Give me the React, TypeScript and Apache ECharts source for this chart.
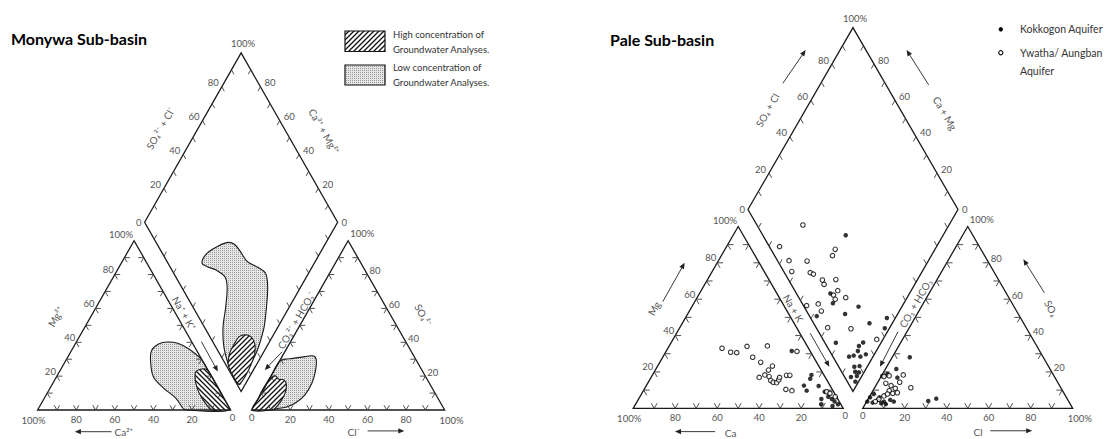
import React, { useEffect, useRef } from "react";
import * as echarts from "echarts";

type Pt = [number, number];

// ---------------- Data (Piper-plot units: triangle side = 100) ----------------
const scaleTicks = [10, 20, 30, 40, 50, 60, 70, 80, 90];
const tickLabelValues = [20, 40, 60, 80];

// Monywa Sub-basin: outlines of groundwater-analysis concentration fields
const monywaLowCentral: Pt[] = [
  [85.2, 75.0], [87.0, 79.3], [91.5, 82.7], [97.9, 85.6], [101.8, 84.9], [105.1, 81.0],
  [108.7, 75.9], [114.1, 73.0], [118.1, 69.9], [119.2, 63.1], [118.6, 52.9], [117.4, 42.6],
  [115.6, 35.8], [113.2, 29.0], [109.6, 22.2], [106.9, 17.1], [104.6, 13.0], [101.8, 17.1],
  [99.2, 22.2], [96.5, 32.4], [96.1, 42.6], [97.5, 52.9], [98.2, 63.1], [97.0, 68.2],
  [92.5, 71.6], [87.9, 73.3],
];
const monywaLowLeft: Pt[] = [
  [58.5, 25.6], [59.2, 30.7], [62.7, 33.8], [67.2, 34.8], [72.6, 34.1], [78.0, 31.5],
  [82.5, 28.1], [85.2, 25.6], [90.0, 17.3], [96.0, 6.9], [97.5, 0], [77.1, 0],
  [75.3, 0.9], [71.7, 6.0], [65.4, 11.1], [60.0, 17.0],
];
const monywaLowRight: Pt[] = [
  [121.0, 17.5], [125.2, 24.7], [128.0, 25.9], [132.2, 26.4], [138.5, 27.3], [143.0, 27.6],
  [144.4, 25.6], [143.9, 19.6], [142.1, 13.7], [138.5, 7.7], [134.0, 3.8], [129.5, 1.7],
  [125.0, 0.9], [118.0, 0], [114.5, 5.5],
];
const monywaHighCentral: Pt[] = [
  [107.5, 38.5], [110.5, 37.5], [112.5, 34.0], [112.5, 29.0], [110.5, 23.0], [107.5, 17.0],
  [104.8, 13.5], [103.5, 13.8], [101.0, 18.0], [98.8, 23.0], [99.5, 29.0], [102.0, 34.0],
  [104.5, 37.5],
];
const monywaHighLeft: Pt[] = [
  [81.6, 17.1], [82.0, 19.6], [85.2, 21.0], [88.3, 20.2], [94.0, 10.4], [98.5, 2.6],
  [99.5, 0], [90.6, 0], [87.0, 3.4], [83.8, 8.5], [82.0, 13.6],
];
const monywaHighRight: Pt[] = [
  [123.0, 17.5], [125.0, 15.7], [127.7, 15.4], [128.9, 12.8], [128.2, 8.5], [125.9, 4.3],
  [123.1, 0.9], [121.3, 0], [111.2, 0], [115.0, 6.6], [120.0, 15.3],
];

// Pale Sub-basin: plotted analyses
const kokkogonAquifer: Pt[] = [
  [101.2, 82.4], [93.9, 54.7], [95.1, 50.0], [107.3, 48.4], [87.4, 43.9], [100.9, 44.9],
  [112.5, 40.5], [120.8, 43.0], [119.8, 38.1], [96.5, 31.2], [75.5, 27.3],
  [102.8, 24.6], [105.0, 25.1], [107.5, 29.7], [107.0, 27.3], [108.2, 24.6], [109.5, 31.3], [110.8, 25.7],
  [105.3, 19.8], [107.8, 20.1], [105.7, 17.4], [107.5, 17.1], [103.7, 14.9], [106.5, 15.4], [105.8, 12.7],
  [84.9, 15.9], [84.3, 14.1], [81.3, 10.8], [82.6, 8.4], [88.3, 10.6],
  [91.2, 7.9], [89.6, 4.4], [89.6, 1.9], [92.9, 5.5], [94.6, 4.4], [95.9, 3.2], [97.5, 1.9], [94.9, 1.1],
  [131.7, 24.3], [125.3, 18.7], [121.1, 16.3], [118.6, 15.4], [125.8, 14.6],
  [114.5, 6.8], [112.8, 5.2], [111.5, 3.2], [114.0, 2.7], [116.5, 4.0], [118.1, 2.4], [120.3, 2.0],
  [122.4, 4.0], [124.1, 3.2], [117.3, 5.2], [119.4, 3.2],
  [140.5, 3.5], [144.3, 4.6],
];
const ywathaAungbanAquifer: Pt[] = [
  [80.8, 87.3], [69.7, 77.0], [96.2, 75.7], [94.9, 72.7], [74.2, 70.3], [82.8, 70.1], [75.5, 65.1],
  [84.3, 64.6], [85.8, 63.9], [90.1, 61.1], [90.9, 59.0], [96.5, 61.3], [95.4, 53.9], [97.4, 56.0],
  [96.2, 51.9], [101.2, 52.7], [88.1, 49.7], [82.6, 48.9], [89.6, 46.3], [92.6, 38.4], [103.7, 37.9],
  [116.0, 32.8],
  [42.3, 28.6], [46.4, 26.7], [49.3, 26.5], [54.2, 29.5], [63.9, 29.7], [56.9, 24.3], [60.7, 21.9],
  [64.4, 18.2], [66.3, 20.1], [60.0, 14.7], [62.7, 15.9], [64.7, 15.1], [65.5, 13.2], [66.7, 12.4],
  [68.3, 12.2], [69.3, 13.5], [69.7, 14.7], [73.0, 15.7], [74.6, 15.7], [72.7, 9.0], [75.6, 8.4],
  [78.0, 27.1], [92.1, 7.9], [93.7, 7.1], [96.2, 5.5],
  [119.4, 15.1], [121.9, 15.5], [128.6, 15.9], [126.9, 12.4], [132.2, 9.8], [120.3, 11.9],
  [122.8, 10.8], [124.8, 9.5], [121.9, 8.4], [123.6, 7.1], [125.8, 7.4], [119.4, 5.9], [121.1, 6.8],
  [117.0, 4.3], [115.3, 3.2],
];

// ---------------- Layout ----------------
const FONT = "Lato, 'DejaVu Sans', sans-serif";
const LABEL_COLOR = "#555";
const SQ3 = Math.sqrt(3);
const TRI_H = 50 * SQ3;

interface Placement { x0: number; y0: number; sx: number; sy: number; xMin: number; xMax: number; yMin: number; yMax: number; }
interface Annot { text: string; at: Pt; rot: number; }
interface DiagramLayout { gap: number; place: Placement; titles: Annot[]; arrows: [Pt, Pt][]; }

const monywaLayout: DiagramLayout = {
  gap: 10.9,
  place: { x0: 37.6, y0: 410, sx: 1.93, sy: 1.955, xMin: -18, xMax: 232, yMin: -14, yMax: 200 },
  titles: [
    { text: "SO₄²⁻ + Cl⁻", at: [63.6, 144.1], rot: 60 },
    { text: "Ca²⁺ + Mg²⁺", at: [148.4, 142.6], rot: -60 },
    { text: "Mg²⁺", at: [9.4, 47.7], rot: 60 },
    { text: "SO₄²⁻", at: [199.8, 48.6], rot: -60 },
    { text: "Na⁺ + K⁺", at: [75.9, 49.5], rot: -60 },
    { text: "CO₃²⁻ + HCO₃⁻", at: [134.0, 46.0], rot: 60 },
    { text: "Ca²⁺", at: [44.6, -11.4], rot: 0 },
    { text: "Cl⁻", at: [163.8, -11.4], rot: 0 },
  ],
  arrows: [
    [[84.9, 34.9], [93.4, 19.7]],
    [[126.7, 29.8], [117.7, 20.5]],
    [[38.3, -11.1], [19.3, -11.1]],
    [[171, -10.7], [190, -10.7]],
  ],
};

const paleLayout: DiagramLayout = {
  gap: 9.3,
  place: { x0: 633.2, y0: 408.3, sx: 2.1, sy: 2.1, xMin: -15, xMax: 225, yMin: -14, yMax: 190 },
  titles: [
    { text: "SO₄ + Cl", at: [63.9, 142.0], rot: 60 },
    { text: "Ca + Mg", at: [148.5, 140.5], rot: -60 },
    { text: "Mg", at: [9.9, 47.6], rot: 60 },
    { text: "SO₄", at: [199.1, 47.6], rot: -60 },
    { text: "Na + K", at: [76.3, 47.6], rot: -60 },
    { text: "CO₃ + HCO₃", at: [134.4, 50.0], rot: 60 },
    { text: "Ca", at: [46.4, -11.6], rot: 0 },
    { text: "Cl", at: [164.2, -11.1], rot: 0 },
  ],
  arrows: [
    [[71.3, 154.8], [82.1, 170.6]],
    [[140.7, 154.0], [130.2, 170.6]],
    [[14.1, 50.8], [24.5, 69.3]],
    [[39, -11.1], [19.9, -11.1]],
    [[84.3, 35.7], [93.4, 19.8]],
    [[126.1, 36.5], [117.5, 19.8]],
    [[195.8, 55.0], [185.8, 71.0]],
    [[170, -10.7], [190, -10.7]],
  ],
};

function geometry(gap: number) {
  const A: Pt = [0, 0], B: Pt = [100, 0], C: Pt = [50, TRI_H];
  const D: Pt = [100 + gap, 0], E: Pt = [200 + gap, 0], F: Pt = [150 + gap, TRI_H];
  const P: Pt = [100 + gap / 2, (gap * SQ3) / 2];
  const L: Pt = [P[0] - 50, P[1] + TRI_H];
  const T: Pt = [P[0], P[1] + 2 * TRI_H];
  const R: Pt = [P[0] + 50, P[1] + TRI_H];
  return { A, B, C, D, E, F, P, L, T, R };
}
const lerp = (p: Pt, q: Pt, t: number): Pt => [p[0] + (q[0] - p[0]) * t, p[1] + (q[1] - p[1]) * t];
const toward = (p: Pt, from: Pt, to: Pt, len: number): Pt => [
  p[0] + ((to[0] - from[0]) * len) / 100,
  p[1] + ((to[1] - from[1]) * len) / 100,
];

function makeFrameRenderer(layout: DiagramLayout) {
  return (_params: any, api: any) => {
    const g = geometry(layout.gap);
    const c = (p: Pt) => api.coord(p) as number[];
    const children: any[] = [];
    const frameStyle = { stroke: "#1a1a1a", lineWidth: 1.3, fill: "none" };
    [[g.A, g.B, g.C], [g.D, g.E, g.F], [g.L, g.T, g.R, g.P]].forEach((poly) => {
      children.push({ type: "polygon", shape: { points: poly.map(c) }, style: frameStyle });
    });
    const tickStyle = { stroke: "#3a3a3a", lineWidth: 0.9 };
    const seg = (p: Pt, q: Pt) => {
      const a = c(p), b = c(q);
      children.push({ type: "line", shape: { x1: a[0], y1: a[1], x2: b[0], y2: b[1] }, style: tickStyle });
    };
    const tri = (a: Pt, b: Pt, o: Pt) =>
      scaleTicks.forEach((t) => {
        const q = lerp(a, b, t / 100);
        seg(q, toward(q, a, o, 2.8));
        seg(q, toward(q, b, o, 2.8));
      });
    tri(g.A, g.B, g.C); tri(g.B, g.C, g.A); tri(g.C, g.A, g.B);
    tri(g.D, g.E, g.F); tri(g.E, g.F, g.D); tri(g.F, g.D, g.E);
    const dia = (a: Pt, b: Pt, from: Pt, to: Pt) =>
      scaleTicks.forEach((t) => {
        const q = lerp(a, b, t / 100);
        seg(q, toward(q, from, to, 2.6));
      });
    dia(g.L, g.T, g.T, g.R);
    dia(g.T, g.R, g.T, g.L);
    dia(g.R, g.P, g.R, g.T);
    dia(g.P, g.L, g.L, g.T);

    const label = (p: Pt, text: string, dx: number, dy: number, align: string) => {
      const a = c(p);
      children.push({
        type: "text", x: a[0] + dx, y: a[1] + dy,
        style: { text, fill: LABEL_COLOR, fontSize: 9.5, fontFamily: FONT, align, verticalAlign: "middle" },
      });
    };
    tickLabelValues.forEach((v) => {
      const s = String(v);
      label(lerp(g.L, g.T, v / 100), s, -3, -4, "right");
      label(lerp(g.R, g.T, v / 100), s, 4, -4, "left");
      label(lerp(g.A, g.C, v / 100), s, -1, -5, "right");
      label(lerp(g.B, g.A, v / 100), s, 0, 9, "center");
      label(lerp(g.E, g.F, v / 100), s, 2, -4, "left");
      label(lerp(g.D, g.E, v / 100), s, 0, 9, "center");
    });
    label(g.L, "0", -3, 0, "right");
    label(g.R, "0", 4, 0, "left");
    label(g.T, "100%", 2, -9, "center");
    label(g.C, "100%", -1, -6, "right");
    label(g.A, "100%", -4, 10, "center");
    label(g.B, "0", 2, 7, "center");
    label(g.F, "100%", 2, -7, "left");
    label(g.D, "0", 0, 7, "center");
    label(g.E, "100%", 7, 10, "center");

    layout.titles.forEach((tt) => {
      const a = c(tt.at);
      children.push({
        type: "text", x: a[0], y: a[1], rotation: (tt.rot * Math.PI) / 180,
        style: { text: tt.text, fill: LABEL_COLOR, fontSize: 10, fontFamily: FONT, align: "center", verticalAlign: "middle" },
      });
    });
    layout.arrows.forEach(([s, e]) => {
      const a = c(s), b = c(e);
      const dx = b[0] - a[0], dy = b[1] - a[1];
      const len = Math.hypot(dx, dy);
      const ux = dx / len, uy = dy / len;
      const hl = 6, hw = 2.6;
      children.push({
        type: "line",
        shape: { x1: a[0], y1: a[1], x2: b[0] - ux * hl * 0.8, y2: b[1] - uy * hl * 0.8 },
        style: { stroke: "#222", lineWidth: 0.9 },
      });
      children.push({
        type: "polygon",
        shape: {
          points: [
            [b[0], b[1]],
            [b[0] - ux * hl - uy * hw, b[1] - uy * hl + ux * hw],
            [b[0] - ux * hl + uy * hw, b[1] - uy * hl - ux * hw],
          ],
        },
        style: { fill: "#222" },
      });
    });
    return { type: "group", children };
  };
}

function hatchPattern(dir: 1 | -1) {
  const s = 5;
  const cv = document.createElement("canvas");
  cv.width = s; cv.height = s;
  const ctx = cv.getContext("2d")!;
  ctx.fillStyle = "#fff";
  ctx.fillRect(0, 0, s, s);
  ctx.strokeStyle = "#111";
  ctx.lineWidth = 1.3;
  ctx.beginPath();
  if (dir === 1) {
    ctx.moveTo(-1, s + 1); ctx.lineTo(s + 1, -1);
    ctx.moveTo(-1, 1); ctx.lineTo(1, -1);
    ctx.moveTo(s - 1, s + 1); ctx.lineTo(s + 1, s - 1);
  } else {
    ctx.moveTo(-1, -1); ctx.lineTo(s + 1, s + 1);
    ctx.moveTo(s - 1, -1); ctx.lineTo(s + 1, 1);
    ctx.moveTo(-1, s - 1); ctx.lineTo(1, s + 1);
  }
  ctx.stroke();
  return { image: cv, repeat: "repeat", imageWidth: s, imageHeight: s };
}

function stipplePattern() {
  const cv = document.createElement("canvas");
  cv.width = 2; cv.height = 2;
  const ctx = cv.getContext("2d")!;
  ctx.fillStyle = "#e6e6e6";
  ctx.fillRect(0, 0, 2, 2);
  ctx.fillStyle = "#9a9a9a";
  ctx.fillRect(0, 0, 1, 1);
  return { image: cv, repeat: "repeat", imageWidth: 2, imageHeight: 2 };
}

function gridOf(p: Placement) {
  return {
    left: p.x0 + p.xMin * p.sx,
    width: (p.xMax - p.xMin) * p.sx,
    top: p.y0 - p.yMax * p.sy,
    height: (p.yMax - p.yMin) * p.sy,
  };
}

export default function App() {
  const ref = useRef<HTMLDivElement>(null);
  useEffect(() => {
    if (!ref.current) return;
    const chart = echarts.init(ref.current, undefined, { renderer: "svg" });
    const stipple = stipplePattern();
    const hatchFwd = hatchPattern(1);
    const hatchBack = hatchPattern(-1);

    const regions = [
      { pts: monywaLowCentral, fill: stipple },
      { pts: monywaLowLeft, fill: stipple },
      { pts: monywaLowRight, fill: stipple },
      { pts: monywaHighCentral, fill: hatchFwd },
      { pts: monywaHighLeft, fill: hatchBack },
      { pts: monywaHighRight, fill: hatchFwd },
    ];

    const axes = [monywaLayout, paleLayout].map((l, i) => ({
      x: { type: "value", gridIndex: i, min: l.place.xMin, max: l.place.xMax, show: false, splitLine: { show: false } },
      y: { type: "value", gridIndex: i, min: l.place.yMin, max: l.place.yMax, show: false, splitLine: { show: false } },
    }));

    const legendText = (x: number, y: number, text: string, size: number) => ({
      type: "text", x, y,
      style: { text, fill: "#333", fontSize: size, fontFamily: FONT, align: "left", verticalAlign: "middle" },
    });

    chart.setOption({
      animation: false,
      backgroundColor: "#fff",
      title: [
        { text: "Monywa Sub-basin", left: 11, top: 30, padding: 0, textStyle: { fontSize: 16, fontWeight: "bold", fontFamily: FONT, color: "#000" } },
        { text: "Pale Sub-basin", left: 610, top: 31, padding: 0, textStyle: { fontSize: 16, fontWeight: "bold", fontFamily: FONT, color: "#000" } },
      ],
      grid: [gridOf(monywaLayout.place), gridOf(paleLayout.place)],
      xAxis: axes.map((a) => a.x),
      yAxis: axes.map((a) => a.y),
      series: [
        {
          type: "custom", name: "Monywa fields", coordinateSystem: "cartesian2d", xAxisIndex: 0, yAxisIndex: 0,
          data: regions.map((r) => r.pts[0]), silent: true, z: 1,
          renderItem: (params: any, api: any) => {
            const r = regions[params.dataIndex];
            return {
              type: "polygon",
              shape: { points: r.pts.map((p) => api.coord(p)), smooth: 0.35 },
              style: { fill: r.fill, stroke: "#1a1a1a", lineWidth: 1.1 },
            };
          },
        },
        {
          type: "custom", name: "Monywa frame", coordinateSystem: "cartesian2d", xAxisIndex: 0, yAxisIndex: 0,
          data: [[0, 0]], silent: true, z: 2, renderItem: makeFrameRenderer(monywaLayout),
        },
        {
          type: "custom", name: "Pale frame", coordinateSystem: "cartesian2d", xAxisIndex: 1, yAxisIndex: 1,
          data: [[0, 0]], silent: true, z: 2, renderItem: makeFrameRenderer(paleLayout),
        },
        {
          type: "scatter", name: "Kokkogon Aquifer", xAxisIndex: 1, yAxisIndex: 1, data: kokkogonAquifer,
          symbol: "circle", symbolSize: 4.5, itemStyle: { color: "#000" }, z: 3,
        },
        {
          type: "scatter", name: "Ywatha/ Aungban Aquifer", xAxisIndex: 1, yAxisIndex: 1, data: ywathaAungbanAquifer,
          symbol: "circle", symbolSize: 4.5, itemStyle: { color: "#fff", borderColor: "#000", borderWidth: 1.1 }, z: 3,
        },
      ],
      graphic: [
        { type: "rect", shape: { x: 345, y: 31, width: 40, height: 20.5 }, style: { fill: hatchFwd, stroke: "#111", lineWidth: 1.2 } },
        { type: "rect", shape: { x: 345, y: 65, width: 40, height: 20 }, style: { fill: stipple, stroke: "#111", lineWidth: 1.2 } },
        legendText(393, 34.3, "High concentration of", 9.5),
        legendText(393, 49, "Groundwater Analyses.", 9.5),
        legendText(393, 67.7, "Low concentration of", 9.5),
        legendText(393, 82.3, "Groundwater Analyses.", 9.5),
        { type: "circle", shape: { cx: 1000.8, cy: 29.3, r: 2.2 }, style: { fill: "#000" } },
        { type: "circle", shape: { cx: 1000.8, cy: 52.7, r: 2.1 }, style: { fill: "#fff", stroke: "#000", lineWidth: 1.1 } },
        legendText(1020, 29.3, "Kokkogon Aquifer", 10.5),
        legendText(1020, 52.7, "Ywatha/ Aungban", 10.5),
        legendText(1020, 71, "Aquifer", 10.5),
      ],
    });
    return () => chart.dispose();
  }, []);
  return <div ref={ref} style={{ position: "absolute", left: 0, top: 0, width: 1109, height: 439 }} />;
}
